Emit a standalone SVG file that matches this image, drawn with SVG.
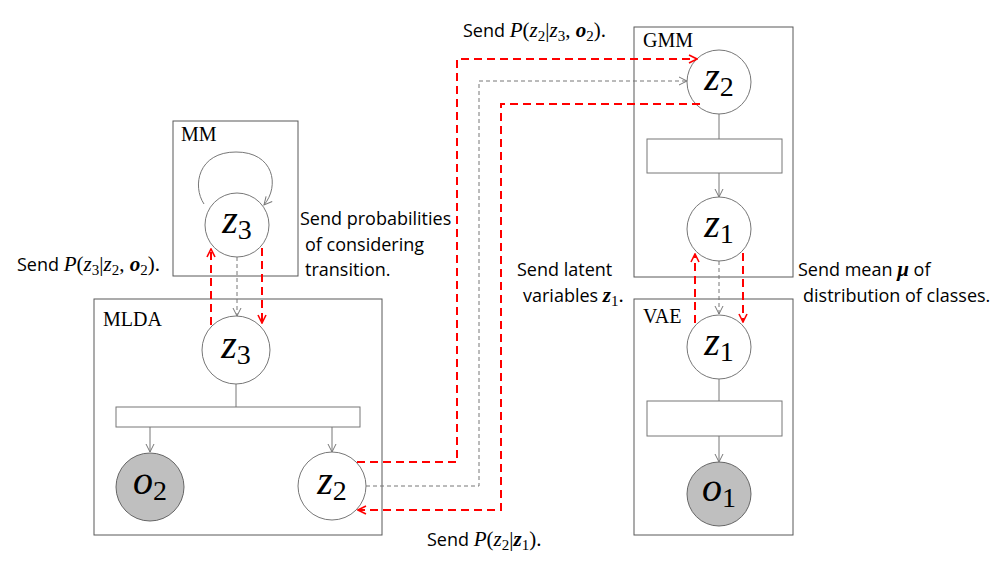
<svg xmlns="http://www.w3.org/2000/svg" width="1002" height="567" viewBox="0 0 1002 567">
<defs>
<style>
.box{fill:none;stroke:#595959;stroke-width:1}
.rect{fill:#fff;stroke:#777;stroke-width:1}
.c{fill:#fff;stroke:#777;stroke-width:1}
.obs{fill:#bfbfbf;stroke:#666;stroke-width:1}
.ln{fill:none;stroke:#777;stroke-width:1}
.red{fill:none;stroke:#ff0000;stroke-width:2;stroke-dasharray:8 5}
.gray{fill:none;stroke:#777;stroke-width:1;stroke-dasharray:4 3}
.lbl{font-family:"Liberation Serif",serif;font-size:20px;fill:#000}
.t{font-family:"Open Sans","Liberation Sans",sans-serif;font-size:18px;fill:#000}
.nl{font-family:"Liberation Serif",serif;font-size:40px;fill:#000}
.m{font-family:"Liberation Serif",serif;font-style:italic;font-size:21px}
.r{font-family:"Liberation Serif",serif;font-style:normal;font-size:21px}
.b{font-family:"Liberation Serif",serif;font-style:italic;font-weight:bold;font-size:21px}
.s{font-family:"Liberation Serif",serif;font-style:normal;font-size:15px}
</style>
<marker id="ag" viewBox="0 0 10 10" refX="9" refY="5" markerWidth="10" markerHeight="10" markerUnits="userSpaceOnUse" orient="auto"><path d="M1 1 L9 5 L1 9" fill="none" stroke="#777" stroke-width="1"/></marker>
<marker id="ar" viewBox="0 0 10 10" refX="9" refY="5" markerWidth="10" markerHeight="10" markerUnits="userSpaceOnUse" orient="auto"><path d="M1 1 L9 5 L1 9" fill="none" stroke="#ff0000" stroke-width="1.6"/></marker>
</defs>
<rect width="1002" height="567" fill="#fff"/>

<g id="MM">
<rect class="box" x="173" y="121" width="125" height="155"/>
<text class="lbl" x="181" y="141">MM</text>
<circle class="c" cx="237" cy="225" r="32"/>
<text class="nl" x="237" y="233" text-anchor="middle"><tspan font-style="italic">z</tspan><tspan font-size="28" dy="6">3</tspan></text>
</g>

<g id="MLDA">
<rect class="box" x="94" y="299" width="288" height="236"/>
<text class="lbl" x="103" y="326">MLDA</text>
<circle class="c" cx="236" cy="350" r="34"/>
<text class="nl" x="236" y="358" text-anchor="middle"><tspan font-style="italic">z</tspan><tspan font-size="28" dy="6">3</tspan></text>
<rect class="rect" x="116" y="407" width="244" height="20"/>
<circle class="obs" cx="150" cy="487" r="34"/>
<text class="nl" x="150" y="494" text-anchor="middle"><tspan font-style="italic">o</tspan><tspan font-size="28" dy="6">2</tspan></text>
<circle class="c" cx="332" cy="486" r="34"/>
<text class="nl" x="332" y="494" text-anchor="middle"><tspan font-style="italic">z</tspan><tspan font-size="28" dy="6">2</tspan></text>
</g>

<g id="GMM">
<rect class="box" x="634" y="27" width="159" height="250"/>
<text class="lbl" x="643" y="47">GMM</text>
<circle class="c" cx="719" cy="82" r="32"/>
<text class="nl" x="719" y="90" text-anchor="middle"><tspan font-style="italic">z</tspan><tspan font-size="28" dy="6">2</tspan></text>
<rect class="rect" x="647" y="139" width="135" height="34"/>
<circle class="c" cx="719" cy="229" r="32"/>
<text class="nl" x="719" y="237" text-anchor="middle"><tspan font-style="italic">z</tspan><tspan font-size="28" dy="6">1</tspan></text>
</g>

<g id="VAE">
<rect class="box" x="634" y="299" width="159" height="236"/>
<text class="lbl" x="643" y="323">VAE</text>
<circle class="c" cx="719" cy="347" r="32"/>
<text class="nl" x="719" y="355" text-anchor="middle"><tspan font-style="italic">z</tspan><tspan font-size="28" dy="6">1</tspan></text>
<rect class="rect" x="647" y="401" width="135" height="35"/>
<circle class="obs" cx="719" cy="494" r="32"/>
<text class="nl" x="719" y="501" text-anchor="middle"><tspan font-style="italic">o</tspan><tspan font-size="28" dy="6">1</tspan></text>
</g>

<g id="connectors">
<path class="ln" d="M204 204 C 192 186, 198 152, 236 152 C 274 152, 280 186, 264 205" marker-end="url(#ag)"/>
<path class="ln" d="M236 384 V407"/>
<path class="ln" d="M150 427 V452" marker-end="url(#ag)"/>
<path class="ln" d="M332 427 V452" marker-end="url(#ag)"/>
<path class="ln" d="M719 114 V139"/>
<path class="ln" d="M719 173 V197" marker-end="url(#ag)"/>
<path class="ln" d="M719 379 V401"/>
<path class="ln" d="M719 436 V462" marker-end="url(#ag)"/>
<path class="red" d="M211 325 V249" marker-end="url(#ar)"/>
<path class="gray" d="M237 257 V316" marker-end="url(#ag)"/>
<path class="red" d="M262 248 V323" marker-end="url(#ar)"/>
<path class="red" d="M695 323 V254" marker-end="url(#ar)"/>
<path class="gray" d="M719 261 V314" marker-end="url(#ag)"/>
<path class="red" d="M743 253 V322" marker-end="url(#ar)"/>
<path class="red" d="M357 462 H457 V59 H697" marker-end="url(#ar)"/>
<path class="gray" d="M366 486 H479 V81 H687" marker-end="url(#ag)"/>
<path class="red" d="M700 104 H501 V510 H358" marker-end="url(#ar)"/>
</g>

<g id="labels">
<text class="t" x="463" y="37">Send <tspan class="m">P</tspan><tspan class="r">(</tspan><tspan class="m">z</tspan><tspan class="s" dy="4">2</tspan><tspan class="r" dy="-4">|</tspan><tspan class="m">z</tspan><tspan class="s" dy="4">3</tspan><tspan class="r" dy="-4">, </tspan><tspan class="b">o</tspan><tspan class="s" dy="4">2</tspan><tspan class="r" dy="-4">).</tspan></text>
<text class="t" x="17" y="271">Send <tspan class="m">P</tspan><tspan class="r">(</tspan><tspan class="m">z</tspan><tspan class="s" dy="4">3</tspan><tspan class="r" dy="-4">|</tspan><tspan class="m">z</tspan><tspan class="s" dy="4">2</tspan><tspan class="r" dy="-4">, </tspan><tspan class="b">o</tspan><tspan class="s" dy="4">2</tspan><tspan class="r" dy="-4">).</tspan></text>
<text class="t" x="300" y="225">Send probabilities</text>
<text class="t" x="305" y="251">of considering</text>
<text class="t" x="305" y="276">transition.</text>
<text class="t" x="517" y="276">Send latent</text>
<text class="t" x="523" y="302">variables <tspan class="b">z</tspan><tspan class="s" dy="4">1</tspan><tspan class="r" dy="-4">.</tspan></text>
<text class="t" x="798" y="276">Send mean <tspan class="b">μ</tspan> of</text>
<text class="t" x="803" y="302">distribution of classes.</text>
<text class="t" x="427" y="546">Send <tspan class="m">P</tspan><tspan class="r">(</tspan><tspan class="m">z</tspan><tspan class="s" dy="4">2</tspan><tspan class="r" dy="-4">|</tspan><tspan class="b">z</tspan><tspan class="s" dy="4">1</tspan><tspan class="r" dy="-4">).</tspan></text>
</g>
</svg>
